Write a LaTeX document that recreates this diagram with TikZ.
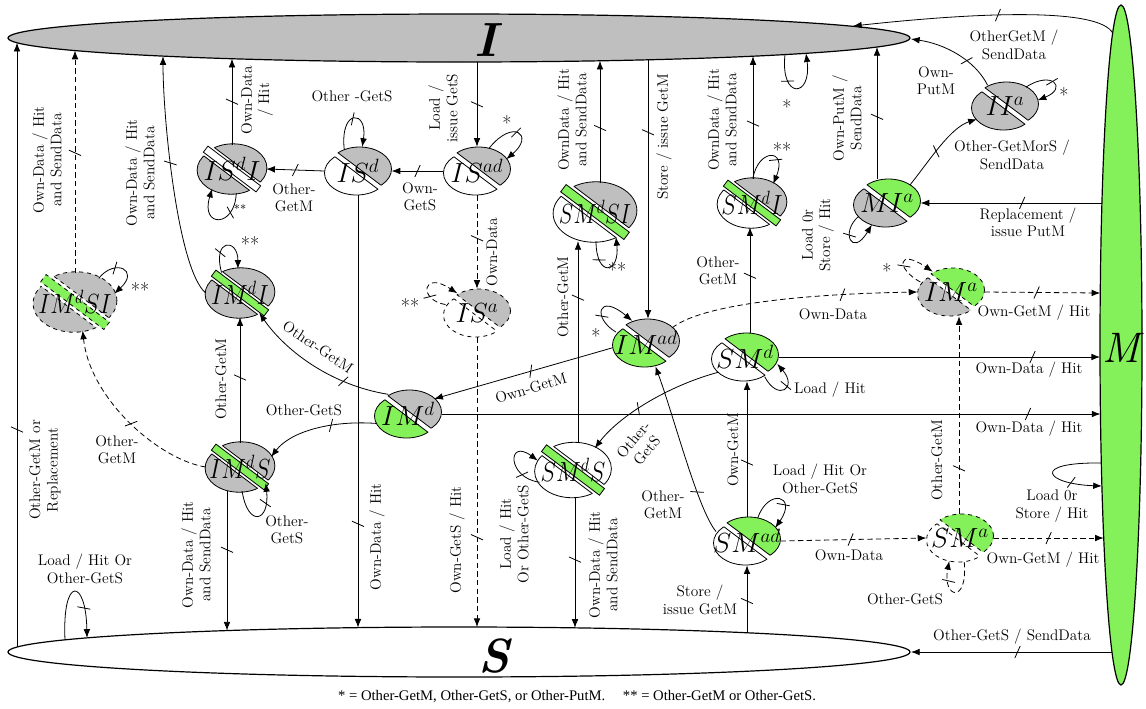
\documentclass[tikz,border=0pt]{standalone}
\usepackage{fontspec}
\usepackage{graphicx}
\newfontfamily\footfont{Liberation Serif}
\usetikzlibrary{shapes.geometric, arrows.meta, decorations.markings}
\definecolor{stgray}{HTML}{BFBFBF}
\definecolor{stgreen}{HTML}{84F05A}

\newcommand\Ipt[2]{\coordinate (#1) at ({#2},{38+24*sqrt(1-((#2-459)/451)*((#2-459)/451))});}
\newcommand\Spt[2]{\coordinate (#1) at ({#2},{652-25*sqrt(1-((#2-459)/451)*((#2-459)/451))});}
\newcommand\Mpt[2]{\coordinate (#1) at ({1121-21*sqrt(1-((#2-345)/340)*((#2-345)/340))},{#2});}

% two-part state: name x y topcol botcol label style
\newcommand\twost[7]{%
  \node[stnode] (#1) at (#2,#3) {};
  \begin{scope}[shift={(#2,#3)}, y=0.75pt, rotate=-37]
    \begin{scope}
      \clip (-60,2.5) rectangle (60,60);
      \filldraw[fill=#4, stl, #7, shift={(0,2.5)}, rotate=37] (0,0) ellipse (32 and 22);
    \end{scope}
    \begin{scope}
      \clip (-60,-2.5) rectangle (60,-60);
      \filldraw[fill=#5, stl, #7, shift={(0,-2.5)}, rotate=37] (0,0) ellipse (32 and 22);
    \end{scope}
    \begin{scope}
      \clip[shift={(0,2.5)}, rotate=37] (0,0) ellipse (32 and 22);
      \draw[stl, #7] (-60,2.5) -- (60,2.5);
    \end{scope}
    \begin{scope}
      \clip[shift={(0,-2.5)}, rotate=37] (0,0) ellipse (32 and 22);
      \draw[stl, #7] (-60,-2.5) -- (60,-2.5);
    \end{scope}
  \end{scope}
  \node[stlab] at (#2,#3) {#6};
}
% three-part state: name x y topcol bandcol botcol label style scale
\newcommand\threest[9]{%
  \node[stnode, minimum width=#9*51pt, minimum height=#9*36pt] (#1) at (#2,#3) {};
  \begin{scope}[shift={(#2,#3)}, y=0.75pt, scale=#9, rotate=-37]
    \begin{scope}
      \clip (-60,6.5) rectangle (60,60);
      \filldraw[fill=#4, stl, #8, shift={(0,1.5)}, rotate=37] (0,0) ellipse (34 and 24);
    \end{scope}
    \begin{scope}
      \clip (-60,-6.5) rectangle (60,-60);
      \filldraw[fill=#6, stl, #8, shift={(0,-1.5)}, rotate=37] (0,0) ellipse (34 and 24);
    \end{scope}
    \begin{scope}
      \clip[shift={(0,1.5)}, rotate=37] (0,0) ellipse (34 and 24);
      \draw[stl, #8] (-60,6.5) -- (60,6.5);
    \end{scope}
    \begin{scope}
      \clip[shift={(0,-1.5)}, rotate=37] (0,0) ellipse (34 and 24);
      \draw[stl, #8] (-60,-6.5) -- (60,-6.5);
    \end{scope}
    \filldraw[fill=#5, stl, #8] (-33,-3.8) rectangle (33,3.8);
  \end{scope}
  \node[stlab] at (#2,#3) {#7};
}

\begin{document}
\begin{tikzpicture}[x=0.75pt, y=-0.75pt,
  stnode/.style={ellipse, minimum width=50pt, minimum height=36pt, inner sep=0pt},
  stl/.style={line width=0.6pt},
  stlab/.style={font=\fontsize{20.74}{21}\selectfont, inner sep=0pt},
  ed/.style={draw, line width=0.6pt, -{Latex[length=6.5pt,width=5pt]}},
  ded/.style={ed, dash pattern=on 4pt off 2.5pt},
  tk/.style={postaction={decorate, decoration={markings, mark=at position #1 with {\draw[solid,-,line width=0.6pt] (-2pt,-4.5pt) -- (2pt,4.5pt);}}}},
  tk/.default=0.5,
  lb/.style={font=\fontsize{11.5}{13}\selectfont, align=center, inner sep=0pt},
  lbv/.style={lb, rotate=90},
  ast/.style={font=\fontsize{15}{15}\selectfont, inner sep=0pt}
]
\useasboundingbox (0,0) rectangle (1146,708);

% big states
\node[ellipse, draw, line width=0.9pt, fill=stgray, minimum width=676.5pt, minimum height=36pt, inner sep=0pt] (I) at (459,38) {};
\node[ellipse, draw, line width=0.9pt, fill=white, minimum width=676.5pt, minimum height=37.5pt, inner sep=0pt] (S) at (459,652) {};
\node[ellipse, draw, line width=0.9pt, fill=stgreen, minimum width=31.5pt, minimum height=510pt, inner sep=0pt] (M) at (1121,345) {};
\node[font=\fontsize{36}{36}\selectfont\bfseries\itshape, inner sep=0pt] (Ilab) at (486,40) {I};
\node[font=\fontsize{36}{36}\selectfont\bfseries\itshape, inner sep=0pt] (Slab) at (494,656) {S};
\node[font=\fontsize{32}{32}\selectfont\itshape, inner sep=0pt] (Mlab) at (1121,348) {M};

% small states
\threest{isdi}{232}{169}{stgray}{white}{stgray}{$IS^{d}I$}{solid}{1}
\twost{isd}{358}{171}{stgray}{white}{$IS^{d}$}{solid}
\twost{isad}{477}{171}{stgray}{white}{$IS^{ad}$}{solid}
\twost{isa}{477}{313}{stgray}{white}{$IS^{a}$}{dashed}
\threest{smdsi}{595}{212}{stgray}{stgreen}{white}{\scalebox{0.8}[1]{$SM^{d}SI$}}{solid}{1.2}
\threest{smdi}{752}{203}{stgray}{stgreen}{white}{\scalebox{0.85}[1]{$SM^{d}I$}}{solid}{1}
\twost{iia}{1005}{106}{stgray}{stgray}{$II^{a}$}{solid}
\twost{mia}{887}{203}{stgreen}{stgray}{$MI^{a}$}{solid}
\threest{imdsi}{75}{302}{stgray}{stgreen}{stgray}{\scalebox{0.85}[1]{$IM^{d}SI$}}{dashed}{1.2}
\threest{imdi}{240}{293}{stgray}{stgreen}{stgray}{\scalebox{0.85}[1]{$IM^{d}I$}}{solid}{1}
\twost{ima}{951}{292}{stgreen}{stgray}{$IM^{a}$}{dashed}
\twost{imad}{646}{343}{stgray}{stgreen}{$IM^{ad}$}{solid}
\twost{smd}{745}{357}{stgreen}{white}{$SM^{d}$}{solid}
\twost{imd}{408}{414}{stgray}{stgreen}{$IM^{d}$}{solid}
\threest{imds}{240}{467}{stgray}{stgreen}{stgray}{\scalebox{0.85}[1]{$IM^{d}S$}}{solid}{1}
\threest{smds}{573}{470}{white}{stgreen}{white}{\scalebox{0.85}[1]{$SM^{d}S$}}{solid}{1.1}
\twost{smad}{747}{541}{stgreen}{white}{$SM^{ad}$}{solid}
\twost{sma}{960}{538}{stgreen}{white}{$SM^{a}$}{dashed}

% ---- connectors ----
\Ipt{i1}{232}
\draw[ed,tk] (isdi.north) -- (i1);
\node[lbv] at (257,100) {Own-Data\\/ Hit};

\Ipt{i2}{477}
\draw[ed,tk] (i2) -- (isad.north);
\node[lbv] at (443,108) {Load /\\issue GetS};

\draw[ed,tk] (isad.62) .. controls (513,118) and (535,135) .. (isad.22);
\node[ast] at (507,123) {*};

\draw[ed,tk] (isad.west) -- (isd.east);
\node[lb] at (420,197) {Own-\\GetS};

\draw[ed,tk] (isd.west) -- (isdi.east);
\node[lb] at (294,198) {Other-\\GetM};

\draw[ed,tk] (isd.122) .. controls (340,108) and (368,110) .. (isd.80);
\node[lb] at (352,96) {Other -GetS};

\draw[ed,tk=0.3] (isdi.-80) .. controls (235,228) and (200,228) .. (isdi.-135);
\node[font=\fontsize{9}{9}\selectfont, inner sep=0pt] at (240,209) {**};

\Spt{s8}{358}
\draw[ed,tk=0.76] (isd.south) -- (s8);
\node[lbv] at (377,537) {Own-Data / Hit};

\draw[ded,tk=0.46] (isad.south) -- (isa.north);
\node[lbv] at (492,252) {Own-Data};

\Spt{s10}{477}
\draw[ded,tk=0.69] (isa.south) -- (s10);
\node[lbv] at (457,540) {Own-GetS / Hit};

\draw[ded,tk=0.3] (isa.165) .. controls (418,300) and (422,270) .. (isa.135);
\node[ast] at (410,306) {**};

\Ipt{i12}{163}
\draw[ed,tk=0.56] (imdi.west) .. controls (178,270) and (163,120) .. (i12);
\node[lbv] at (140,173) {Own-Data / Hit\\and SendData};

\Ipt{i13}{75}
\draw[ded,tk=0.54] (imdsi.north) -- (i13);
\node[lbv] at (47,160) {Own-Data / Hit\\and SendData};

\Spt{s14}{17}
\Ipt{i14}{17}
\draw[ed,tk=0.36] (s14) -- (i14);
\node[lbv] at (45,470) {Other-GetM or\\Replacement};

\Spt{s15a}{65}
\Spt{s15b}{87}
\draw[ed,tk=0.7] (s15a) .. controls (62,575) and (86,578) .. (s15b);
\node[lb] at (85,569) {Load / Hit Or\\Other-GetS};

\Spt{s16}{227}
\draw[ed,tk=0.42] (imds.south -| 227,0) -- (s16);
\node[lbv] at (196,555) {Own-Data / Hit\\and SendData};

\draw[ed,tk=0.52] (imds.north) -- (imdi.south);
\node[lbv] at (221,379) {Other-GetM};

\draw[ed,tk=0.35] (imdi.132) .. controls (212,238) and (238,238) .. (imdi.95);
\node[ast] at (250,244) {**};

\draw[ed,tk=0.3] (imd.135) .. controls (330,385) and (285,350) .. (imdi.-46);
\node[lb, rotate=-34] at (318,347) {Other-GetM};

\draw[ed,tk=0.4] (imd.197) .. controls (330,420) and (290,432) .. (imds.18);
\node[lb] at (304,410) {Other-GetS};

\draw[ded,tk=0.45] (imds.west) .. controls (160,460) and (90,400) .. (imdsi.-75);
\node[lb] at (117,450) {Other-\\GetM};

\draw[ed,tk=0.35] (imdsi.45) .. controls (115,258) and (140,270) .. (imdsi.12);
\node[ast] at (140,290) {**};

\draw[ed,tk=0.7] (imds.-85) .. controls (248,528) and (270,522) .. (imds.-32);
\node[lb] at (287,530) {Other-\\GetS};

\draw[ed,tk=0.46] (imad.188) -- (imd.30);
\node[lb, rotate=16.5] at (531,388) {Own-GetM};

\draw[ed,tk=0.35] (imad.160) .. controls (592,318) and (598,292) .. (imad.122);
\node[ast] at (596,336) {*};

\Ipt{i26}{648}
\draw[ed,tk=0.28] (i26) -- (imad.north -| 648,0);
\node[lbv] at (664,137) {Store / issue GetM};

\Ipt{i27}{600}
\draw[ed,tk=0.45] (smdsi.north -| 600,0) -- (i27);
\node[lbv] at (572,120) {OwnData / Hit\\and SendData};

\draw[ed,tk=0.3] (smdsi.-88) .. controls (596,278) and (620,274) .. (smdsi.-50);
\node[ast] at (617,270) {**};

\draw[ed,tk=0.72] (smds.north -| 578,0) -- (smdsi.south -| 578,0);
\node[lbv] at (563,297) {Other-GetM};

\Ipt{i30}{753}
\draw[ed,tk=0.45] (smdi.north -| 753,0) -- (i30);
\node[lbv] at (722,120) {OwnData / Hit\\and SendData};

\draw[ed,tk=0.6] (smdi.88) .. controls (758,148) and (788,148) .. (smdi.42);
\node[ast] at (782,150) {**};

\draw[ed,tk=0.54] (smd.north -| 750,0) -- (smdi.south -| 750,0);
\node[lb] at (718,271) {Other-\\GetM};

\Ipt{i33a}{785}
\Ipt{i33b}{806}
\draw[ed,tk=0.35] (i33a) .. controls (780,100) and (812,98) .. (i33b);
\node[ast] at (787,107) {*};

\Ipt{i34}{877}
\draw[ed,tk=0.47] (mia.north -| 877,0) -- (i34);
\node[lbv] at (847,118) {Own-PutM /\\SendData};

\draw[ed,tk=0.4] (mia.205) .. controls (840,232) and (852,258) .. (mia.235);
\node[lbv] at (818,235) {Load 0r\\Store / Hit};

\Mpt{m36}{203}
\draw[ed,tk=0.44] (m36) -- (mia.east);
\node[lb] at (1028,222) {Replacement /\\issue PutM};

\draw[ed,tk=0.45] (mia.38) .. controls (930,160) and (950,128) .. (iia.205);
\node[lb] at (1012,155) {Other-GetMorS /\\SendData};

\coordinate (i38) at (911,39);
\draw[ed,tk=0.35] (iia.130) .. controls (975,60) and (945,44) .. (i38);
\node[lb] at (936,81) {Own-\\PutM};

\draw[ed,tk=0.5] (iia.42) .. controls (1052,70) and (1068,88) .. (iia.10);
\node[ast] at (1064,95) {*};

\Mpt{m40}{33}
\coordinate (i40) at (853,26);
\draw[ed,tk=0.45] (m40) .. controls (1100,10) and (1000,10) .. (i40);
\node[lb] at (1014,45) {OtherGetM /\\SendData};

\Mpt{m41}{357}
\draw[ed,tk=0.79] (smd.east) -- (m41);
\node[lb] at (1029,370) {Own-Data / Hit};

\Mpt{m42}{414}
\draw[ed,tk=0.89] (imd.east) -- (m42);
\node[lb] at (1029,429) {Own-Data / Hit};

\draw[ed,tk=0.55] (smd.-45) .. controls (778,402) and (798,388) .. (smd.-12);
\node[lb] at (830,390) {Load / Hit};

\draw[ed,tk=0.6] (smd.210) .. controls (670,385) and (620,415) .. (smds.45);
\node[lb, rotate=50] at (640,445) {Other-\\GetS};

\draw[ed,tk=0.25] (smad.163) .. controls (698,510) and (675,420) .. (imad.-68);
\node[lb] at (663,505) {Other-\\GetM};

\draw[ed,tk=0.4] (smad.north) -- (smad.north |- smd.south);
\node[lbv] at (733,450) {Own-GetM};

\draw[ed,tk=0.6] (smad.65) .. controls (768,488) and (798,495) .. (smad.25);
\node[lb] at (820,479) {Load / Hit Or\\Other-GetS};

\Spt{s48}{747}
\draw[ed,tk=0.47] (s48) -- (smad.south);
\node[lb] at (700,600) {Store /\\issue GetM};

\draw[ded,tk=0.48] (smad.east) -- (sma.west);
\node[lb] at (849,555) {Own-Data};

\Mpt{m50}{538}
\draw[ded,tk=0.5] (sma.east) -- (m50);
\node[lb] at (1043,560) {Own-GetM / Hit};

\draw[ded,tk=0.7] (sma.-80) .. controls (968,605) and (942,598) .. (sma.-115);
\node[lb] at (905,599) {Other-GetS};

\Mpt{m52a}{463}
\Mpt{m52b}{486}
\draw[ed,tk=0.7] (m52a) .. controls (1030,462) and (1045,484) .. (m52b);
\node[lb] at (1052,506) {Load 0r\\Store / Hit};

\Spt{s53}{575}
\draw[ed,tk=0.48] (smds.south -| 575,0) -- (s53);
\node[lbv] at (603,565) {Own-Data / Hit\\and SendData};

\draw[ed,tk=0.3] (smds.200) .. controls (507,478) and (507,438) .. (smds.165);
\node[lbv] at (514,534) {Load / Hit\\Or Other-GetS};

\draw[ded,tk=0.7] (imad.30) .. controls (700,305) and (800,294) .. (ima.west);
\node[lb] at (833,314) {Own-Data};

\Mpt{m57}{293}
\draw[ded,tk=0.45] (ima.east) -- (m57);
\node[lb] at (1034,313) {Own-GetM / Hit};

\draw[ded,tk=0.4] (ima.162) .. controls (895,268) and (898,248) .. (ima.132);
\node[ast] at (887,271) {*};

\draw[ded,tk=0.23] (sma.north -| 959,0) -- (ima.south -| 959,0);
\node[lbv] at (937,460) {Other-GetM};

\Mpt{m62}{652}
\coordinate (s62) at (911,652);
\draw[ed,tk=0.47] (m62) -- (s62);
\node[lb] at (1012,637) {Other-GetS / SendData};

\node[font=\footfont\fontsize{11}{13}\selectfont, inner sep=0pt] (foot) at (577,697) {* = Other-GetM, Other-GetS, or Other-PutM.\hspace{1.2em}** = Other-GetM or Other-GetS.};
\end{tikzpicture}
\end{document}
